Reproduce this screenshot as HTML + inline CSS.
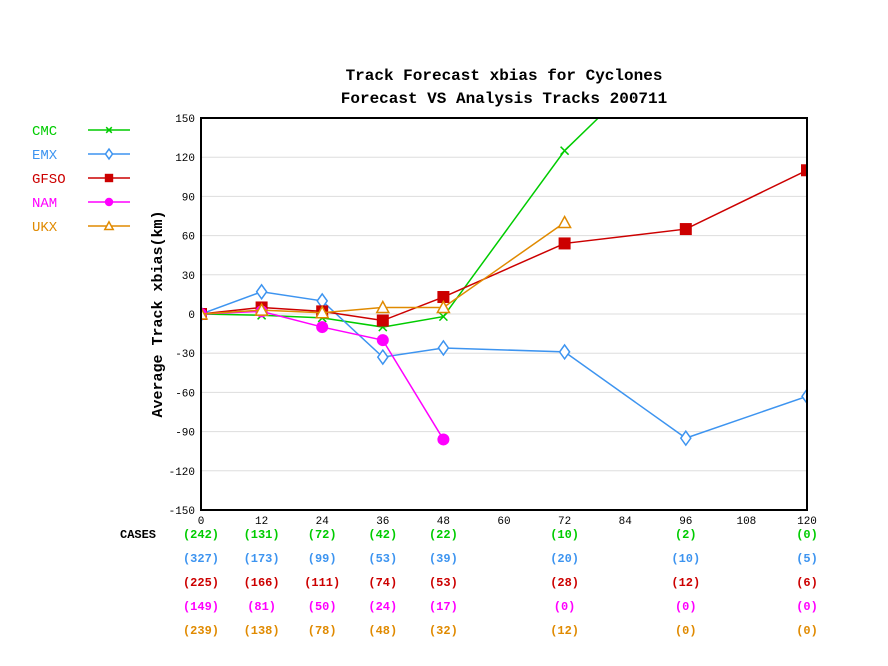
<!DOCTYPE html>
<html><head><meta charset="utf-8"><style>
body{margin:0;background:#fff;}
svg{display:block;font-family:"Liberation Mono",monospace;}
</style></head><body>
<svg id="chart" width="888" height="666" xmlns="http://www.w3.org/2000/svg">
<text x="504" y="80" text-anchor="middle" font-size="16" font-weight="bold">Track Forecast xbias for Cyclones</text>
<text x="504" y="103" text-anchor="middle" font-size="16" font-weight="bold">Forecast VS Analysis Tracks 200711</text>
<text transform="translate(162,314) rotate(-90)" text-anchor="middle" font-size="15" font-weight="bold">Average Track xbias(km)</text>
<g id="grid"></g><g id="series"></g><g id="axes"></g><g id="legend"></g><g id="cases"></g>
</svg>
<script>
const xTicks=[0,12,24,36,48,60,72,84,96,108,120];
const yTicks=[150,120,90,60,30,0,-30,-60,-90,-120,-150];
const leads=[0,12,24,36,48,72,96,120];
const names=["CMC","EMX","GFSO","NAM","UKX"];
const colors=["#00cc00","#3d94f0","#cc0000","#ff00ff","#e08a00"];
const cmc=[0,-1,-3,-10,-2,125,215,null];
const emx=[0,17,10,-33,-26,-29,-95,-63];
const gfso=[0,5,2,-5,13,54,65,110];
const nam=[0,2,-10,-20,-96,null,null,null];
const ukx=[0,3,1,5,5,70,null,null];
const casesCmc=["(242)","(131)","(72)","(42)","(22)","(10)","(2)","(0)"];
const casesEmx=["(327)","(173)","(99)","(53)","(39)","(20)","(10)","(5)"];
const casesGfso=["(225)","(166)","(111)","(74)","(53)","(28)","(12)","(6)"];
const casesNam=["(149)","(81)","(50)","(24)","(17)","(0)","(0)","(0)"];
const casesUkx=["(239)","(138)","(78)","(48)","(32)","(12)","(0)","(0)"];
const series=[cmc,emx,gfso,nam,ukx];
const cases=[casesCmc,casesEmx,casesGfso,casesNam,casesUkx];
const markers=["x","diamond","square","circle","triangle"];
const L=201,R=807,T=118,B=510;
const xs=v=>L+(v/120)*(R-L);
const ys=v=>T+(150-v)/300*(B-T);
const NS="http://www.w3.org/2000/svg";
function mk(tag,attrs,parent,txt){const e=document.createElementNS(NS,tag);for(const k in attrs)e.setAttribute(k,attrs[k]);if(txt!==undefined)e.textContent=txt;parent.appendChild(e);return e;}
const grid=document.getElementById('grid'),axes=document.getElementById('axes'),sg=document.getElementById('series'),lg=document.getElementById('legend'),cg=document.getElementById('cases');
mk('clipPath',{id:'clip'},document.getElementById('chart'));
mk('rect',{x:L,y:T,width:R-L,height:B-T},document.getElementById('clip'));
yTicks.forEach(v=>{
 if(v!==150&&v!==-150){const g=mk('line',{x1:L,x2:R,y1:ys(v),y2:ys(v),stroke:'#dddddd'},grid);}
 const t=mk('text',{x:L-6,y:ys(v)+4,'text-anchor':'end','font-size':'11'},axes,String(v));
 
 
});
xTicks.forEach(v=>{
 const t=mk('text',{x:xs(v),y:B+14,'text-anchor':'middle','font-size':'11'},axes,String(v));
 
 
});
const fr=mk('rect',{x:L,y:T,width:R-L,height:B-T,fill:'none',stroke:'#000','stroke-width':2},axes);


function marker(type,x,y,c,p,s){
 s=s||1;let e;
 if(type==='x'){e=mk('path',{d:`M${x-4*s},${y-4*s}L${x+4*s},${y+4*s}M${x-4*s},${y+4*s}L${x+4*s},${y-4*s}`,stroke:c,'stroke-width':1.5,fill:'none'},p);}
 else if(type==='diamond'){e=mk('path',{d:`M${x},${y-7*s}L${x+5*s},${y}L${x},${y+7*s}L${x-5*s},${y}Z`,stroke:c,'stroke-width':1.5,fill:'#fff'},p);}
 else if(type==='square'){e=mk('rect',{x:x-6*s,y:y-6*s,width:12*s,height:12*s,fill:c},p);}
 else if(type==='circle'){e=mk('circle',{cx:x,cy:y,r:6*s,fill:c},p);}
 else {e=mk('path',{d:`M${x},${y-6*s}L${x+6*s},${y+5*s}L${x-6*s},${y+5*s}Z`,stroke:c,'stroke-width':1.5,fill:'#fff'},p);}
 return e;
}
series.forEach((s,i)=>{
 const g=mk('g',{'clip-path':'url(#clip)'},sg);
 
 
 let d='';
 leads.forEach((l,j)=>{if(s[j]!==null)d+=(d?'L':'M')+xs(l)+','+ys(s[j]);});
 const p=mk('path',{d:d,stroke:colors[i],'stroke-width':1.5,fill:'none'},g);
 
 
 leads.forEach((l,j)=>{if(s[j]!==null){const m=marker(markers[i],xs(l),ys(s[j]),colors[i],g);
  
  }});
 const ly=130+i*24;
 const lt=mk('text',{x:32,y:ly+5,fill:colors[i],'font-size':'14'},lg,names[i]);
 
 
 const ll=mk('line',{x1:88,x2:130,y1:ly,y2:ly,stroke:colors[i],'stroke-width':1.5},lg);
 
 
 const lm=marker(markers[i],109,ly,colors[i],lg,0.7);
 
 
 cases[i].forEach((c,j)=>{
  const t=mk('text',{x:xs(leads[j]),y:538+i*24,'text-anchor':'middle',fill:colors[i],'font-size':'12','font-weight':'bold'},cg,c);
  
  
 });
});
const ct=mk('text',{x:120,y:538,'font-size':'12','font-weight':'bold'},cg,'CASES');


</script>
</body></html>
